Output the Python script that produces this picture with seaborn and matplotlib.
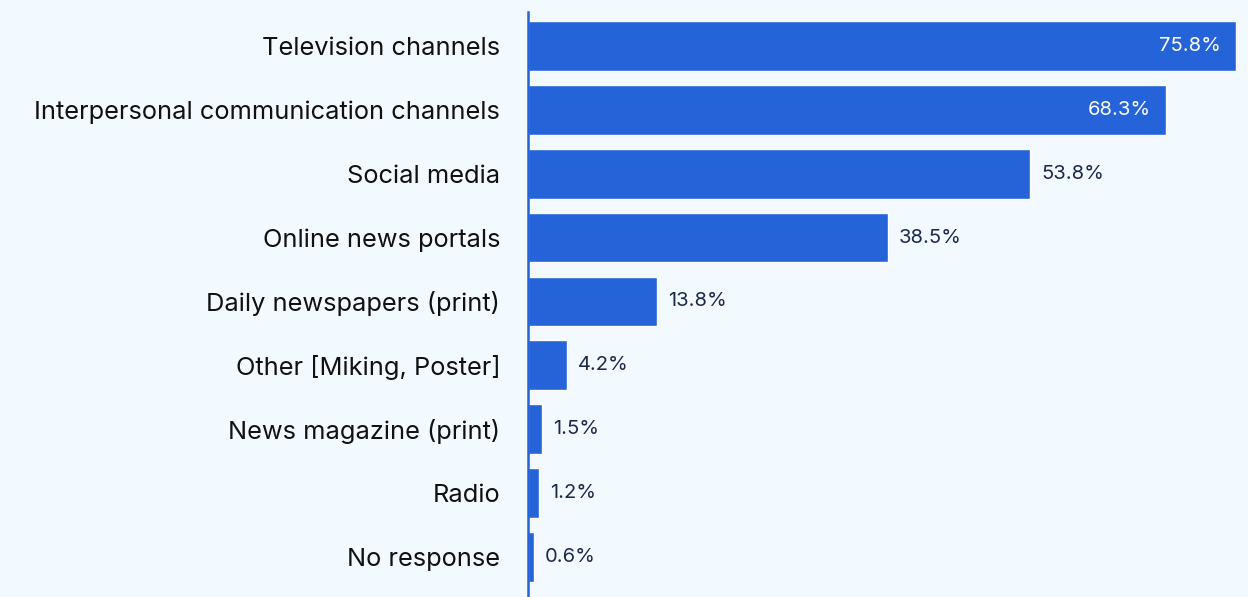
import matplotlib
matplotlib.use("Agg")
import matplotlib.pyplot as plt
import seaborn as sns
import pandas as pd

categories = [
    "Television channels",
    "Interpersonal communication channels",
    "Social media",
    "Online news portals",
    "Daily newspapers (print)",
    "Other [Miking, Poster]",
    "News magazine (print)",
    "Radio",
    "No response",
]
shares = [75.8, 68.3, 53.8, 38.5, 13.8, 4.2, 1.5, 1.2, 0.6]

df = pd.DataFrame({"source": categories, "share": shares})

BG = "#F3FAFF"
BAR = "#2563D9"
VALUE_TXT = "#1B2A4A"

sns.set_theme(style="white")
plt.rcParams["font.family"] = ["Inter", "DejaVu Sans"]

fig = plt.figure(figsize=(12.48, 5.97), dpi=100, facecolor=BG)
ax = fig.add_axes([528 / 1248, 1 / 597, 720 / 1248, 584 / 597])
ax.set_facecolor(BG)

sns.barplot(data=df, x="share", y="source", orient="h", color=BAR,
            saturation=1, width=0.78, ax=ax)

ax.set_xlim(0, 77.1)
ax.set_ylim(8.61, -0.53)
ax.set_xlabel("")
ax.set_ylabel("")
ax.set_xticks([])
ax.tick_params(axis="y", length=0, pad=20, labelsize=18.3, labelcolor="#111111")

for side in ("top", "right", "bottom"):
    ax.spines[side].set_visible(False)
ax.spines["left"].set_color(BAR)
ax.spines["left"].set_linewidth(1.8)

for i, v in enumerate(shares):
    label = f"{v:.1f}%"
    if v > 60:
        ax.annotate(label, (v, i), xytext=(-11, 0), textcoords="offset points",
                    ha="right", va="center", color="white", fontsize=14.5)
    else:
        ax.annotate(label, (v, i), xytext=(8, 0), textcoords="offset points",
                    ha="left", va="center", color=VALUE_TXT, fontsize=14.5)

fig.savefig("out.png", dpi=100, facecolor=BG)
